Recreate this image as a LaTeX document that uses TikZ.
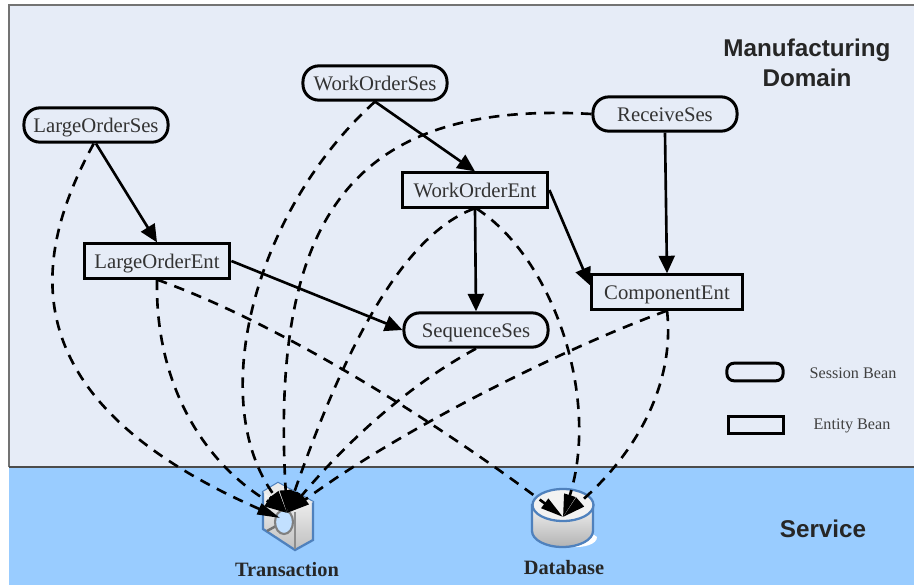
\documentclass[tikz,border=0pt]{standalone}
\usepackage{fontspec}
\setmainfont{Liberation Serif}
\setsansfont{Liberation Sans}
\usetikzlibrary{arrows.meta}
\definecolor{domainbg}{HTML}{E6ECF7}
\definecolor{servicebg}{HTML}{99CCFF}
\definecolor{iconline}{HTML}{4F81BD}
\begin{document}
\begin{tikzpicture}[x=0.02cm,y=-0.02cm]
        \tikzstyle{session} = [draw,rounded corners=9pt,line width=1.7pt,minimum width=82pt,minimum height=19.5pt,inner sep=1pt,text height=8pt,text depth=0pt,font=\fontsize{11.8}{13}\selectfont,text=black!80]
        \tikzstyle{entity} = [draw,line width=1.7pt,minimum width=83pt,minimum height=19.5pt,inner sep=1pt,text height=8pt,text depth=0pt,font=\fontsize{11.8}{13}\selectfont,text=black!80]
        \tikzstyle{title} = [font=\sffamily\bfseries\fontsize{13.8}{17}\selectfont,text=black!85,align=center]
        \tikzstyle{legend} = [font=\fontsize{9.2}{11}\selectfont,text=black!75]
        \tikzstyle{icon} = [font=\bfseries\fontsize{11.6}{13}\selectfont,text=black!85]
        \tikzstyle{uses} = [-{Triangle[length=10pt,width=9pt]},line width=1.5pt]
        \tikzstyle{calls} = [-{Triangle[length=13pt,width=6.5pt]},line width=1.5pt,dash pattern=on 6pt off 4.5pt]

        \useasboundingbox (0,0) rectangle (914,585);
        \fill[white] (0,0) rectangle (914,585);
        \fill[domainbg] (9,5) rectangle (914,467);
        \fill[servicebg] (9,467) rectangle (914,585);
        \draw[black!55,line width=1pt] (9,467) -- (9,5) -- (914,5);
        \draw[black!70,line width=1.1pt] (9,467) -- (914,467);

        % transaction icon
        \draw[iconline,line width=1.3pt,top color=white,bottom color=black!25] (263,492) -- (278,483) -- (313,502) -- (313,540) -- (295,550) -- (263,529) -- cycle;
        \fill[black!8] (263,492) -- (278,483) -- (313,502) -- (295,512) -- cycle;
        \draw[black!45,line width=.6pt] (295,512) -- (295,549);
        \draw[black!55,line width=1.4pt] (276,526) -- (267,531);
        \draw[black!50,line width=1.2pt,fill=servicebg!60!white] (284,522) ellipse [x radius=9,y radius=12];
        % database icon
        \fill[white] (590,532) -- (597,537) .. controls (597,544) and (585,548) .. (570,547) -- cycle;
        \draw[iconline,line width=1.3pt,top color=black!5,bottom color=black!30] (532,505) -- (532,531) arc[start angle=180,end angle=0,x radius=30.5,y radius=16] -- (593,505) -- cycle;
        \draw[iconline,line width=1.3pt,fill=white!95!black] (563,505) ellipse [x radius=30.5,y radius=16];

        \node[session] (los) at (96,125) {LargeOrderSes};
        \node[entity] (loe) at (157,261) {LargeOrderEnt};
        \node[session] (wos) at (375,83) {WorkOrderSes};
        \node[entity] (woe) at (475,190) {WorkOrderEnt};
        \node[session] (res) at (665,114) {ReceiveSes};
        \node[entity,minimum width=86pt] (coe) at (667,292) {ComponentEnt};
        \node[session] (seq) at (476,330) {SequenceSes};
        \node[session,minimum width=32pt,minimum height=8.5pt,rounded corners=4pt] (ks) at (755,372) {};
        \node[entity,minimum width=31pt,minimum height=8.5pt] (ke) at (756,425) {};
        \node[legend] (kst) at (853,373) {Session Bean};
        \node[legend] (ket) at (852,426) {Entity Bean};
        \node[title] (dom) at (807,63) {Manufacturing\\Domain};
        \node[title] (srv) at (823,529) {Service};
        \node[icon] (txl) at (287,570) {Transaction};
        \node[icon] (dbl) at (564,568) {Database};
        \coordinate (tx) at (287,513);
        \coordinate (txw) at (280,518);
        \coordinate (db) at (563,517);

        \foreach \from/\to in {los.south/loe.north, wos.south/woe.north, res.south/coe.north, woe.east/coe.175, woe.south/seq.north, loe.east/seq.west}
            \draw[uses] (\from) -- (\to);

        \draw[calls] (los.-97) .. controls (30,260) and (10,400) .. (txw);
        \draw[calls] (loe.south) .. controls (155,380) and (200,460) .. (tx);
        \draw[calls] (loe.south) .. controls (270,320) and (420,410) .. (db);
        \draw[calls] (wos.south) .. controls (255,210) and (205,400) .. (tx);
        \draw[calls] (res.west) .. controls (350,100) and (270,220) .. (tx);
        \draw[calls] (woe.-93) .. controls (390,240) and (330,390) .. (tx);
        \draw[calls] (woe.-85) .. controls (555,260) and (600,400) .. (db);
        \draw[calls] (seq.south) .. controls (400,390) and (340,450) .. (tx);
        \draw[calls] (coe.south) .. controls (560,350) and (400,430) .. (tx);
        \draw[calls] (coe.south) .. controls (675,380) and (640,450) .. (db);
      \end{tikzpicture}
\end{document}
